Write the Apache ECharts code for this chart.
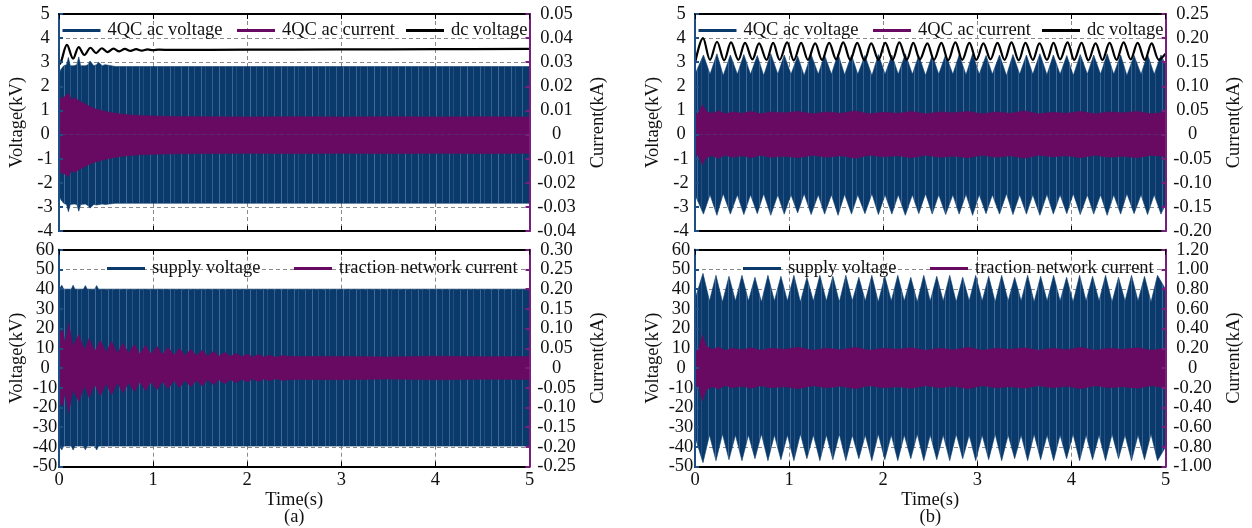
<!DOCTYPE html>
<html><head><meta charset="utf-8">
<script src="https://cdn.jsdelivr.net/npm/echarts@6/dist/echarts.min.js"></script>
<style>html,body{margin:0;padding:0;background:#fff}#c{width:1252px;height:528px}</style>
</head><body><div id="c"></div>
<script>
// ================= DATA =================
// ---- (a) upper panel : 4QC ac voltage envelope (kV) ----
const a1_acV_t  = [0, 0.02, 0.05, 0.08, 0.1, 0.12, 0.16, 0.19, 0.21, 0.23, 0.28, 0.31, 0.33, 0.37, 0.4, 0.42, 0.46, 0.49, 0.51, 0.6, 1, 2, 3, 4, 5];
const a1_acV_hi = [2.5, 2.7, 2.85, 2.9, 3.2, 2.85, 2.85, 2.9, 3.22, 2.85, 2.85, 2.9, 3.05, 2.85, 2.9, 3.0, 2.85, 2.9, 2.95, 2.82, 2.82, 2.82, 2.82, 2.82, 2.82];
const a1_acV_lo = [-2.5, -2.7, -2.85, -2.9, -3.2, -2.9, -2.88, -2.9, -3.18, -2.9, -2.88, -2.95, -3.05, -2.9, -2.92, -3.0, -2.88, -2.9, -2.95, -2.85, -2.85, -2.85, -2.85, -2.85, -2.85];
// ---- (a) upper : 4QC ac current envelope (kA) ----
const a1_acI_t  = [0, 0.03, 0.07, 0.1, 0.13, 0.17, 0.21, 0.25, 0.3, 0.35, 0.4, 0.5, 0.6, 0.7, 0.85, 1.0, 1.2, 1.5, 2.0, 2.5, 3.0, 3.5, 4.0, 4.5, 5.0];
const a1_acI_hi = [0.0155, 0.015, 0.016, 0.0172, 0.0145, 0.0152, 0.014, 0.0133, 0.0122, 0.0112, 0.0105, 0.0095, 0.0088, 0.0083, 0.0079, 0.0077, 0.0075, 0.0074, 0.0073, 0.0074, 0.0073, 0.0074, 0.0073, 0.0074, 0.0073];
const a1_acI_lo = [-0.0155, -0.016, -0.0165, -0.0175, -0.015, -0.0156, -0.0146, -0.0138, -0.0128, -0.0119, -0.0112, -0.0102, -0.0094, -0.0089, -0.0084, -0.0082, -0.008, -0.0079, -0.0078, -0.0079, -0.0078, -0.0079, -0.0078, -0.0079, -0.0078];
// ---- (a) upper : dc voltage (kV) ----
const a1_dc_t = [0, 0.02, 0.085, 0.15, 0.21, 0.27, 0.335, 0.395, 0.455, 0.515, 0.58, 0.64, 0.70, 0.76, 0.82, 0.88, 0.94, 1.0, 1.06, 1.2, 2, 3, 4, 5];
const a1_dc_v = [2.9, 3.0, 3.72, 3.15, 3.63, 3.3, 3.6, 3.38, 3.58, 3.42, 3.56, 3.45, 3.55, 3.47, 3.54, 3.48, 3.53, 3.5, 3.52, 3.51, 3.52, 3.53, 3.54, 3.55];

// ---- (a) lower : supply voltage envelope (kV) ----
const a2_sup_t  = [0, 0.03, 0.05, 0.13, 0.15, 0.17, 0.26, 0.28, 0.3, 0.38, 0.4, 0.42, 5];
const a2_sup_hi = [40, 42, 40, 40, 42, 40, 40, 41.8, 40, 40, 41.8, 40, 40];
const a2_sup_lo = [-39.6, -41.5, -39.6, -39.6, -41.6, -39.6, -39.6, -41.5, -39.6, -39.6, -41.6, -39.6, -39.6];
// ---- (a) lower : traction network current envelope amplitude (kA) ----
const a2_tr_t = [0, 0.04, 0.07, 0.1, 0.15, 0.21, 0.27, 0.32, 0.38, 0.44,
  0.5, 0.56, 0.62, 0.68, 0.74, 0.8, 0.86, 0.92, 0.98, 1.04,
  1.1, 1.16, 1.22, 1.28, 1.34, 1.4, 1.46, 1.52, 1.58, 1.64,
  1.7, 1.76, 1.82, 1.88, 1.94, 2.0, 2.06, 2.12, 2.18, 2.24,
  2.3, 2.36, 2.5, 3, 3.5, 4, 4.5, 5];
const a2_tr_a = [0.09, 0.095, 0.06, 0.115, 0.055, 0.085, 0.045, 0.075, 0.0425, 0.07,
  0.04, 0.0675, 0.0375, 0.0625, 0.0375, 0.06, 0.035, 0.0575, 0.035, 0.055,
  0.034, 0.0525, 0.0325, 0.05, 0.0315, 0.0475, 0.031, 0.045, 0.03, 0.0425,
  0.03, 0.04, 0.029, 0.0375, 0.0285, 0.035, 0.028, 0.034, 0.028, 0.0325,
  0.0275, 0.031, 0.029, 0.0295, 0.028, 0.03, 0.0285, 0.029];

// ---- (b) upper : 4QC ac voltage envelope amplitude (kV) ----
const b1_acV_t = [0,
  0.09, 0.16, 0.233, 0.30, 0.376, 0.45, 0.519, 0.59, 0.662, 0.73,
  0.805, 0.88, 0.948, 1.02, 1.091, 1.16, 1.234, 1.31, 1.377, 1.45,
  1.52, 1.59, 1.663, 1.73, 1.806, 1.88, 1.949, 2.02, 2.092, 2.16,
  2.235, 2.31, 2.378, 2.45, 2.521, 2.59, 2.664, 2.74, 2.807, 2.88,
  2.95, 3.02, 3.093, 3.16, 3.236, 3.31, 3.379, 3.45, 3.522, 3.59,
  3.665, 3.74, 3.808, 3.88, 3.951, 4.02, 4.094, 4.17, 4.237, 4.31,
  4.38, 4.45, 4.523, 4.59, 4.666, 4.74, 4.809, 4.88,
  4.952, 5.0];
const b1_acV_a = [2.5,
  3.3, 2.5, 3.35, 2.45, 3.3, 2.5, 3.32, 2.5, 3.28, 2.45,
  3.35, 2.5, 3.3, 2.5, 3.25, 2.45, 3.32, 2.5, 3.3, 2.5,
  3.35, 2.48, 3.3, 2.5, 3.28, 2.45, 3.32, 2.5, 3.3, 2.5,
  3.35, 2.5, 3.28, 2.45, 3.3, 2.5, 3.32, 2.5, 3.3, 2.48,
  3.35, 2.5, 3.28, 2.5, 3.3, 2.45, 3.32, 2.5, 3.3, 2.5,
  3.35, 2.48, 3.3, 2.5, 3.28, 2.45, 3.32, 2.5, 3.3, 2.5,
  3.35, 2.5, 3.3, 2.45, 3.28, 2.5, 3.32, 2.5,
  3.3, 2.9];
// ---- (b) upper : 4QC ac current envelope amplitude (kA) ----
const b1_acI_t = [0, 0.04, 0.08, 0.12, 0.18, 0.25, 0.32, 0.4, 0.5, 0.6, 0.7, 0.8, 0.95, 1.1, 1.25, 1.4, 1.55, 1.7, 1.85, 2.0,
  2.15, 2.3, 2.45, 2.6, 2.75, 2.9, 3.05, 3.2, 3.35, 3.5, 3.65, 3.8, 3.95, 4.1, 4.25, 4.4, 4.55, 4.7, 4.85, 5.0];
const b1_acI_a = [0.04, 0.046, 0.062, 0.048, 0.044, 0.049, 0.043, 0.047, 0.044, 0.048, 0.043, 0.047, 0.045, 0.048, 0.043, 0.047, 0.044, 0.049, 0.043, 0.046,
  0.044, 0.048, 0.043, 0.047, 0.045, 0.048, 0.043, 0.047, 0.044, 0.049, 0.043, 0.046, 0.044, 0.048, 0.043, 0.047, 0.045, 0.048, 0.043, 0.046];
// ---- (b) upper : dc voltage (kV) ----
const b1_dc_t = [0,
  0.085, 0.16, 0.234, 0.31, 0.383, 0.46, 0.532, 0.61, 0.681, 0.76,
  0.83, 0.90, 0.979, 1.05, 1.128, 1.20, 1.277, 1.35, 1.426, 1.50,
  1.575, 1.65, 1.724, 1.80, 1.873, 1.95, 2.022, 2.10, 2.171, 2.25,
  2.32, 2.39, 2.469, 2.54, 2.618, 2.69, 2.767, 2.84, 2.916, 2.99,
  3.065, 3.14, 3.214, 3.29, 3.363, 3.44, 3.512, 3.59, 3.661, 3.74,
  3.81, 3.88, 3.959, 4.03, 4.108, 4.18, 4.257, 4.33, 4.406, 4.48,
  4.555, 4.63, 4.704, 4.78, 4.853, 4.93,
  5.0];
const b1_dc_v = [2.95,
  4.0, 3.1, 3.85, 3.08, 3.82, 3.1, 3.8, 3.12, 3.78, 3.1,
  3.8, 3.1, 3.82, 3.08, 3.8, 3.1, 3.78, 3.1, 3.8, 3.12,
  3.82, 3.1, 3.8, 3.08, 3.78, 3.1, 3.8, 3.1, 3.82, 3.1,
  3.8, 3.12, 3.78, 3.1, 3.8, 3.08, 3.82, 3.1, 3.8, 3.1,
  3.78, 3.12, 3.8, 3.1, 3.82, 3.08, 3.8, 3.1, 3.78, 3.1,
  3.8, 3.12, 3.82, 3.1, 3.8, 3.08, 3.78, 3.1, 3.8, 3.1,
  3.82, 3.12, 3.8, 3.1, 3.78, 3.1,
  3.35];

// ---- (b) lower : supply voltage envelope amplitude (kV) ----
const b2_sup_t = [0,
  0.085, 0.154, 0.223, 0.292, 0.361, 0.43, 0.499, 0.568, 0.637, 0.706,
  0.775, 0.844, 0.913, 0.982, 1.051, 1.12, 1.189, 1.258, 1.327, 1.396,
  1.465, 1.534, 1.603, 1.672, 1.741, 1.81, 1.879, 1.948, 2.017, 2.086,
  2.155, 2.224, 2.293, 2.362, 2.431, 2.5, 2.569, 2.638, 2.707, 2.776,
  2.845, 2.914, 2.983, 3.052, 3.121, 3.19, 3.259, 3.328, 3.397, 3.466,
  3.535, 3.604, 3.673, 3.742, 3.811, 3.88, 3.949, 4.018, 4.087, 4.156,
  4.225, 4.294, 4.363, 4.432, 4.501, 4.57, 4.639, 4.708, 4.777, 4.846,
  4.915, 5.0];
const b2_sup_a = [35,
  48, 34, 47, 33.5, 46.5, 34, 47, 34, 46, 33.5,
  47, 34, 46.5, 34, 47, 33.5, 46, 34, 47, 34,
  46.5, 33.5, 47, 34, 46, 34, 47, 33.5, 46.5, 34,
  47, 34, 46, 33.5, 47, 34, 46.5, 34, 47, 33.5,
  46, 34, 47, 34, 46.5, 33.5, 47, 34, 46, 34,
  47, 33.5, 46.5, 34, 47, 34, 46, 33.5, 47, 34,
  46.5, 34, 47, 33.5, 46, 34, 47, 34, 46.5, 33.5,
  47, 40];
// ---- (b) lower : traction network current envelope amplitude (kA) ----
const b2_tr_t = [0, 0.04, 0.08, 0.12, 0.18, 0.25, 0.32, 0.4, 0.5, 0.6, 0.7, 0.8, 0.95, 1.1, 1.25, 1.4, 1.55, 1.7, 1.85, 2.0,
  2.15, 2.3, 2.45, 2.6, 2.75, 2.9, 3.05, 3.2, 3.35, 3.5, 3.65, 3.8, 3.95, 4.1, 4.25, 4.4, 4.55, 4.7, 4.85, 5.0];
const b2_tr_a = [0.17, 0.2, 0.335, 0.22, 0.19, 0.21, 0.18, 0.2, 0.185, 0.205, 0.18, 0.2, 0.19, 0.21, 0.18, 0.2, 0.185, 0.21, 0.18, 0.2,
  0.19, 0.205, 0.18, 0.2, 0.185, 0.21, 0.18, 0.2, 0.19, 0.205, 0.18, 0.2, 0.185, 0.21, 0.18, 0.2, 0.19, 0.205, 0.18, 0.2];

// axis tick definitions [min, max, interval]
const xTicks   = [0, 5, 1];
const vTopTick = [-4, 5, 1];
const vBotTick = [-50, 60, 10];
const a1_iTick = [-0.04, 0.05, 0.01];
const a2_iTick = [-0.25, 0.30, 0.05];
const b1_iTick = [-0.20, 0.25, 0.05];
const b2_iTick = [-1.00, 1.20, 0.20];

// ================= STYLE / LAYOUT =================
const BLUE = '#0a3a6b', PURPLE = '#680a62', BLACK = '#000';
const AXBLUE = '#1d4f86', AXPURPLE = '#7a1d80';
const FONT = 'Liberation Serif';
const txt = {fontFamily: FONT, fontSize: 18.5, color: '#111'};
const W = 470.5, H = 217;

// striped fill imitating the aliased carrier of the dense waveform
function stripes() {
  const c = document.createElement('canvas');
  c.width = 31; c.height = 4;
  const x = c.getContext('2d');
  x.fillStyle = BLUE; x.fillRect(0, 0, 31, 4);
  [[2, 0.5], [8, 0.28], [15, 0.45], [19, 0.22], [26, 0.38]].forEach(([px, a]) => {
    x.fillStyle = 'rgba(125,155,195,' + a + ')'; x.fillRect(px, 0, 1, 4);
  });
  return {image: c, repeat: 'repeat'};
}
const BLUEFILL = stripes();

const panels = [
  {left: 59,  top: 14,    yL: vTopTick, yR: a1_iTick, bottom: false, tag: '(a)', legendTop: 21,
   legends: [['4QC ac voltage', 3.5], ['4QC ac current', 178], ['dc voltage', 347]]},
  {left: 59,  top: 249.7, yL: vBotTick, yR: a2_iTick, bottom: true, tag: '(a)', legendTop: 259,
   legends: [['supply voltage', 48], ['traction network current', 235]]},
  {left: 695, top: 14,    yL: vTopTick, yR: b1_iTick, bottom: false, tag: '(b)', legendTop: 21,
   legends: [['4QC ac voltage', 3.5], ['4QC ac current', 178], ['dc voltage', 347]]},
  {left: 695, top: 249.7, yL: vBotTick, yR: b2_iTick, bottom: true, tag: '(b)', legendTop: 259,
   legends: [['supply voltage', 48], ['traction network current', 235]]}
];

function pairs(t, v) { const n = Math.min(t.length, v.length); const o = []; for (let i = 0; i < n; i++) o.push([t[i], v[i]]); return o; }
function neg(v) { return v.map(x => -x); }

const grid = [], xAxis = [], yAxis = [], legend = [], series = [];
const dash = {color: '#8a8a8a', type: [4, 3], width: 1};
const rfmt = v => (Math.abs(v) < 1e-9 ? '0' : v.toFixed(2));

panels.forEach((p, g) => {
  grid.push({left: p.left, top: p.top, width: W, height: H, containLabel: false});
  xAxis.push({gridIndex: g, type: 'value', position: 'bottom', min: xTicks[0], max: xTicks[1], interval: xTicks[2],
    axisLine: {show: true, onZero: false, lineStyle: {color: '#000', width: 2}},
    axisTick: {show: true, inside: true, length: 5, lineStyle: {color: '#000'}},
    axisLabel: {show: p.bottom, margin: 4, ...txt},
    splitLine: {show: true, lineStyle: dash},
    name: p.bottom ? 'Time(s)\n' + p.tag : '', nameLocation: 'middle', nameGap: 20,
    nameTextStyle: {...txt, lineHeight: 17.5}});
  xAxis.push({gridIndex: g, type: 'value', position: 'top', min: xTicks[0], max: xTicks[1], interval: xTicks[2], z: 5,
    axisLine: {show: true, onZero: false, lineStyle: {color: '#000', width: 2}},
    axisTick: {show: true, inside: true, length: 5, lineStyle: {color: '#000'}},
    axisLabel: {show: false}, splitLine: {show: false}});
  yAxis.push({gridIndex: g, type: 'value', position: 'left', min: p.yL[0], max: p.yL[1], interval: p.yL[2],
    axisLine: {show: true, onZero: false, lineStyle: {color: AXBLUE, width: 2}},
    axisTick: {show: false},
    axisLabel: {margin: 14, align: 'center', ...txt},
    splitLine: {show: true, lineStyle: dash},
    name: 'Voltage(kV)', nameLocation: 'middle', nameGap: 32, nameRotate: 90, nameTextStyle: txt});
  yAxis.push({gridIndex: g, type: 'value', position: 'right', min: p.yR[0], max: p.yR[1], interval: p.yR[2], z: 5,
    axisLine: {show: true, onZero: false, lineStyle: {color: AXPURPLE, width: 2}},
    axisTick: {show: true, inside: true, length: 4, lineStyle: {color: AXPURPLE, width: 2}},
    axisLabel: {margin: 27, align: 'center', formatter: rfmt, ...txt},
    splitLine: {show: false},
    name: 'Current(kA)', nameLocation: 'middle', nameGap: 59, nameRotate: 90, nameTextStyle: txt});
  yAxis.push({gridIndex: g, type: 'value', position: 'left', min: p.yL[0], max: p.yL[1], interval: p.yL[2], z: 5,
    axisLine: {show: true, onZero: false, lineStyle: {color: AXBLUE, width: 2}},
    axisTick: {show: true, inside: true, length: 4, lineStyle: {color: AXBLUE, width: 2}},
    axisLabel: {show: false}, splitLine: {show: false}});
  p.legends.forEach(([name, dx]) => legend.push({
    data: [name], left: p.left + dx, top: p.legendTop, padding: 0, itemGap: 0,
    itemWidth: 38, itemHeight: 3, icon: 'rect', selectedMode: false,
    textStyle: {...txt, padding: [0, 0, 0, 2]}
  }));
});

function band(name, color, fill, t, hi, lo, g, right, z) {
  const base = {type: 'line', name, xAxisIndex: 2 * g, yAxisIndex: 3 * g + (right ? 1 : 0),
    symbol: 'none', silent: true, animation: false, z, color,
    itemStyle: {color}, lineStyle: {color, width: 0.6}, areaStyle: {color: fill, opacity: 1}};
  return [{...base, data: pairs(t, hi)}, {...base, data: pairs(t, lo)}];
}
function curve(name, color, t, v, g, z) {
  return {type: 'line', name, xAxisIndex: 2 * g, yAxisIndex: 3 * g, data: pairs(t, v),
    symbol: 'none', silent: true, animation: false, z, color, smooth: 0.35,
    itemStyle: {color}, lineStyle: {color, width: 2.2}};
}

// (a) upper
series.push(...band('4QC ac voltage', BLUE, BLUEFILL, a1_acV_t, a1_acV_hi, a1_acV_lo, 0, false, 2));
series.push(...band('4QC ac current', PURPLE, PURPLE, a1_acI_t, a1_acI_hi, a1_acI_lo, 0, true, 3));
series.push(curve('dc voltage', BLACK, a1_dc_t, a1_dc_v, 0, 4));
// (a) lower
series.push(...band('supply voltage', BLUE, BLUEFILL, a2_sup_t, a2_sup_hi, a2_sup_lo, 1, false, 2));
series.push(...band('traction network current', PURPLE, PURPLE, a2_tr_t, a2_tr_a, neg(a2_tr_a), 1, true, 3));
// (b) upper
series.push(...band('4QC ac voltage', BLUE, BLUEFILL, b1_acV_t, b1_acV_a, neg(b1_acV_a), 2, false, 2));
series.push(...band('4QC ac current', PURPLE, PURPLE, b1_acI_t, b1_acI_a, neg(b1_acI_a), 2, true, 3));
series.push(curve('dc voltage', BLACK, b1_dc_t, b1_dc_v, 2, 4));
// (b) lower
series.push(...band('supply voltage', BLUE, BLUEFILL, b2_sup_t, b2_sup_a, neg(b2_sup_a), 3, false, 2));
series.push(...band('traction network current', PURPLE, PURPLE, b2_tr_t, b2_tr_a, neg(b2_tr_a), 3, true, 3));

const chart = echarts.init(document.getElementById('c'), null, {renderer: 'canvas'});
chart.setOption({animation: false, backgroundColor: '#fff', grid, xAxis, yAxis, legend, series, tooltip: {show: false}});
</script></body></html>
